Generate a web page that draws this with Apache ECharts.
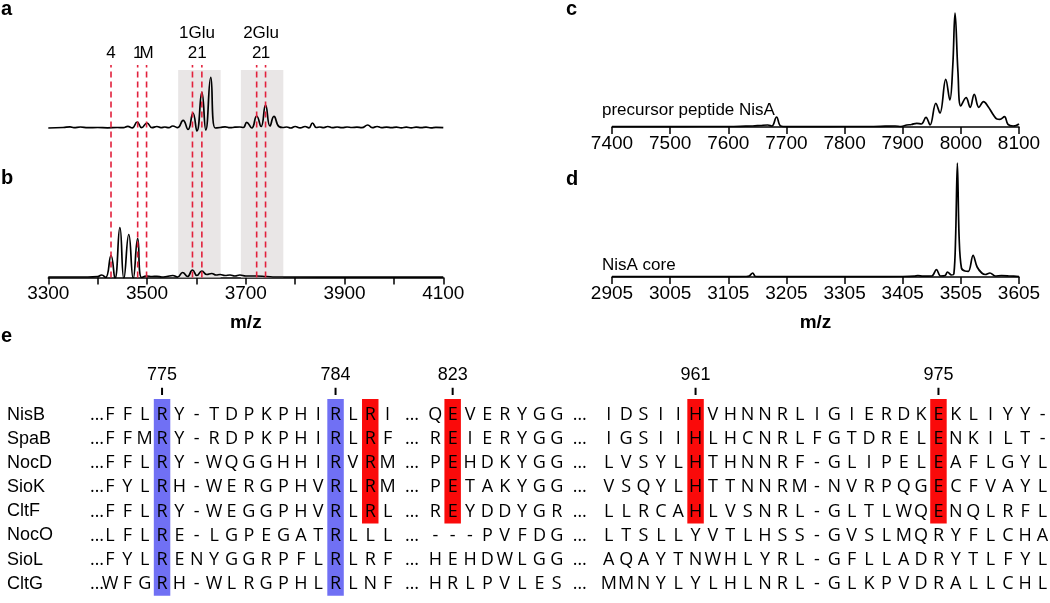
<!DOCTYPE html>
<html><head><meta charset="utf-8">
<script src="https://cdn.jsdelivr.net/npm/echarts@6/dist/echarts.min.js"></script>
<style>html,body{margin:0;padding:0;background:#fff}#c{width:1050px;height:603px}</style>
</head><body><div id="c"></div>
<script>
// ================= DATA =================
// Panel a: spectrum (m/z, relative intensity)
const specA = [[3300,0],[3330,0.5],[3344,1.2],[3352,0.4],[3365,1],[3380,0.3],[3400,0.5],[3420,0.2],[3440,0.5],[3452,0.3],[3461,1.6],[3470,0.2],[3480,6],[3489,0.4],[3500,5],[3510,0.3],[3520,1.5],[3528,0.3],[3536,1],[3544,0.3],[3552,2],[3562,0.4],[3573,7.6],[3583,-1.5],[3593,15],[3601,-3],[3611,35.6],[3619,-2],[3629,50.6],[3638,0],[3648,0.5],[3658,1.2],[3668,0.3],[3678,0.8],[3688,1],[3695,0.5],[3702,5.6],[3712,0],[3722,12],[3731,1.5],[3740,23],[3749,2],[3757,11.6],[3767,1.5],[3775,0.5],[3783,1],[3791,0],[3800,1.5],[3810,0.2],[3820,1.5],[3828,0.2],[3835,5],[3843,0.5],[3850,1],[3858,0.3],[3866,1.5],[3875,0.3],[3885,1],[3895,0.3],[3905,1],[3915,0.5],[3925,0.8],[3935,0.3],[3947,3],[3956,0.3],[3966,1.5],[3975,0.3],[3985,0.8],[3995,0.3],[4005,0.8],[4015,0.2],[4025,0.8],[4035,0.2],[4045,0.8],[4055,0.3],[4065,0.8],[4075,0.2],[4085,0.6],[4100,0.3]];
// Panel b
const specB = [[3300,0.5],[3340,0.5],[3380,0.5],[3400,1],[3408,2.5],[3416,0],[3427,22],[3435,-1],[3445,50],[3453,-1],[3463,43],[3472,-1],[3481,39],[3489,0],[3499,1.5],[3510,1],[3520,1.2],[3530,0.5],[3540,1],[3552,2],[3562,0.5],[3572,5],[3582,1],[3592,7.5],[3601,2],[3611,6.5],[3621,3],[3631,4],[3640,2.5],[3648,3],[3658,2],[3668,2.5],[3678,1.5],[3688,2.5],[3700,1.5],[3720,1.5],[3742,1],[3760,0.5],[3800,0.5],[3900,0.3],[4000,0.3],[4100,0.3]];
// Panel c: precursor peptide NisA
const specC = [[7400,0.3],[7450,0.3],[7500,0.3],[7550,0.5],[7600,0.5],[7630,0.8],[7642,1],[7655,1.5],[7668,2],[7675,1],[7683,10],[7690,1],[7700,0.3],[7750,0.3],[7800,0.5],[7850,0.5],[7870,0.8],[7887,1],[7897,0.5],[7907,2],[7915,2.5],[7924,3.7],[7932,3],[7940,9.7],[7947,2],[7957,23.7],[7964,14],[7974,47.7],[7981,27],[7986,60],[7990,114],[7995,55],[8000,21],[8009,29.3],[8016,19.7],[8023,32.7],[8031,19.7],[8039,25.3],[8047,20.3],[8056,12],[8062,8],[8067,7.7],[8075,10.3],[8081,2.7],[8090,1],[8095,1.5],[8100,3]];
// Panel d: NisA core
const specD = [[2905,0.3],[2950,0.3],[3000,0.3],[3050,0.3],[3100,0.3],[3135,0.5],[3141,1],[3147,4],[3152,0.5],[3170,0.3],[3250,0.3],[3300,0.3],[3350,0.4],[3400,0.5],[3425,0.8],[3431,1.5],[3440,0.8],[3455,1],[3463,7.4],[3470,1],[3478,1.5],[3482,5],[3489,2],[3493,3],[3496,40],[3499,114],[3502,40],[3506,9],[3512,6],[3518,5.7],[3526,21.7],[3533,10],[3541,4],[3547,2.5],[3555,4],[3564,1],[3575,1.5],[3590,1],[3605,0.5]];

// Marker lines (a/b) and labels
const markerMz = [3427,3481,3499,3592,3611,3722,3740];
const markerLabels = ['4','1','M','2','1','2','1'];
const groupMz = [3601,3731];
const groupLabels = ['1Glu','2Glu'];
const boxRanges = [[3563,3649],[3690,3776]];

// Tick values
const ticksAB = [3300,3400,3500,3600,3700,3800,3900,4000,4100];
const labelsAB = [3300,3500,3700,3900,4100];
const ticksC = [7400,7500,7600,7700,7800,7900,8000,8100];
const ticksD = [2905,3005,3105,3205,3305,3405,3505,3605];

// Alignment (panel e)
const names = ['NisB','SpaB','NocD','SioK','CltF','NocO','SioL','CltG'];
const block1 = ['FFLRY-TDPKPHIRLRI','FFMRY-RDPKPHIRLRF','FFLRY-WQGGHHIRVRM','FYLRH-WERGPHVRLRM','FFLRY-WEGGPHVRLRL','LFLRE-LGPEGATRLLL','FYLRENYGGRPFLRLRF','WFGRH-WLRGPHLRLNF'];
const block2 = ['QEVERYGG','REIERYGG','PEHDKYGG','PETAKYGG','REYDDYGR','---PVFDG','HEHDWLGG','HRLPVLES'];
const block3 = ['IDSIIHVHNNRLIGIERDKEKLIYY-','IGSIIHLHCNRLFGTDRELENKILT-','LVSYLHTHNNRF-GLIPELEAFLGYL','VSQYLHTTNNRM-NVRPQGECFVAYL','LLRCAHLVSNRL-GLTLWQENQLRFL','LTSLLYVTLHSS-GVSLMQRYFLCHA','AQAYTNWHLYRL-GFLLADRYTLFYL','MMNYLYLHLNRL-GLKPVDRALLCHL'];
const blocks = [block1, block2, block3];
const posNumbers = [775,784,823,961,975];
const posBlock = [0,0,1,2,2];
const posCol = [3,13,1,5,19];
// highlighted residues: block, column, number of rows from top, kind
const hlBlock = [0,0,0,1,2,2];
const hlCol = [3,13,15,1,5,19];
const hlRows = [8,8,5,5,5,5];
const hlKind = ['conserved','conserved','catalytic','catalytic','catalytic','catalytic'];

// ================= LAYOUT / STYLE =================
const COL_X0 = 110, COL_W = 17.35, ROW_Y0 = 415, ROW_H = 24.1;
const blockStart = [0, 18.75, 28.75];
const ellipsisU = [-0.75, 17.4, 27.07];
const NAME_U = (7 - COL_X0) / COL_W;
const kindColor = {conserved:'#7070f4', catalytic:'#fa0a0a'};
const SANS = '"Liberation Sans", Arial, Helvetica, sans-serif';
const SEQF = '"Open Sans", "DejaVu Sans", sans-serif';

// build alignment items
const items = [];
names.forEach((n, r) => items.push({u: NAME_U, r, text: n, kind: 'name'}));
for (let r = 0; r < names.length; r++) {
  blocks.forEach((b, bi) => {
    items.push({u: ellipsisU[bi], r, text: '\u2026', kind: 'ell'});
    b[r].split('').forEach((ch, ci) => items.push({u: blockStart[bi] + ci, r, text: ch, kind: 'res'}));
  });
}
posNumbers.forEach((num, i) => items.push({u: blockStart[posBlock[i]] + posCol[i], r: -1.66, text: String(num), kind: 'num'}));
const tickItems = posNumbers.map((num, i) => ({u: blockStart[posBlock[i]] + posCol[i]}));
const boxItems = hlBlock.map((b, i) => ({u: blockStart[b] + hlCol[i], rows: hlRows[i], color: kindColor[hlKind[i]]}));

const chart = echarts.init(document.getElementById('c'), null, {renderer: 'canvas'});

const hiddenAxis = (extra) => Object.assign({type:'value', show:false, axisLine:{show:false}, axisTick:{show:false}, axisLabel:{show:false}, splitLine:{show:false}}, extra);
const visAxisX = (gi, min, max, ticks, labels) => ({
  type:'value', gridIndex: gi, min, max,
  axisLine:{show:true, onZero:false, lineStyle:{color:'#000', width:1.5}},
  axisTick:{show:true, inside:false, length:7, lineStyle:{color:'#000', width:1.5}, customValues: ticks},
  axisLabel:{show:true, color:'#000', fontSize:19, fontFamily:SANS, margin:7, customValues: labels, formatter: v => String(v)},
  splitLine:{show:false}
});

const specLine = (xi, data, sm) => ({
  type:'line', xAxisIndex: xi, yAxisIndex: xi, data, showSymbol:false, smooth:sm,
  lineStyle:{color:'#000', width:1.7}, z:3, silent:true, animation:false, clip:true
});

const mzName = {name:'m/z', nameLocation:'middle', nameGap:36, nameTextStyle:{fontSize:19, fontWeight:'bold', fontFamily:SANS, color:'#000'}};

const option = {
  animation:false,
  backgroundColor:'#fff',
  grid:[
    {left:48.3, width:395, top:20, height:257.5},     // 0 overlay a/b
    {left:48.3, width:395, top:68, height:65},        // 1 a
    {left:48.3, width:395, top:217.5, height:60},     // 2 b
    {left:612, width:407, top:7, height:120},         // 3 c
    {left:612, width:407, top:157, height:120},       // 4 d
    {left:0, width:1050, top:360, height:240}         // 5 e
  ],
  xAxis:[
    hiddenAxis({gridIndex:0, min:3300, max:4100}),
    hiddenAxis({gridIndex:1, min:3300, max:4100}),
    Object.assign(visAxisX(2, 3300, 4100, ticksAB, labelsAB), mzName),
    visAxisX(3, 7400, 8100, ticksC, ticksC),
    Object.assign(visAxisX(4, 2905, 3605, ticksD, ticksD), mzName),
    hiddenAxis({gridIndex:5, min: -COL_X0 / COL_W, max: (1050 - COL_X0) / COL_W})
  ],
  yAxis:[
    hiddenAxis({gridIndex:0, min:0, max:257.5}),
    hiddenAxis({gridIndex:1, min:-5, max:60}),
    hiddenAxis({gridIndex:2, min:0, max:60}),
    hiddenAxis({gridIndex:3, min:0, max:120}),
    hiddenAxis({gridIndex:4, min:0, max:120}),
    hiddenAxis({gridIndex:5, min:(360 - ROW_Y0) / ROW_H, max:(600 - ROW_Y0) / ROW_H, inverse:true})
  ],
  graphic:[
    {type:'text', x:1, y:9, style:{text:'a', font:'bold 20px ' + SANS, fill:'#000', verticalAlign:'middle'}},
    {type:'text', x:1, y:178, style:{text:'b', font:'bold 20px ' + SANS, fill:'#000', verticalAlign:'middle'}},
    {type:'text', x:566, y:9, style:{text:'c', font:'bold 20px ' + SANS, fill:'#000', verticalAlign:'middle'}},
    {type:'text', x:566, y:179, style:{text:'d', font:'bold 20px ' + SANS, fill:'#000', verticalAlign:'middle'}},
    {type:'text', x:1, y:336, style:{text:'e', font:'bold 20px ' + SANS, fill:'#000', verticalAlign:'middle'}},
    {type:'text', x:602, y:110, style:{text:'precursor peptide NisA', font:'17px ' + SANS, fill:'#000', verticalAlign:'middle'}},
    {type:'text', x:602, y:265, style:{text:'NisA core', font:'17px ' + SANS, fill:'#000', verticalAlign:'middle'}}
  ],
  series:[
    // gray boxes
    {type:'custom', xAxisIndex:0, yAxisIndex:0, z:1, silent:true,
     data: boxRanges.map(b => [b[0], b[1]]),
     renderItem:(p, api) => {
       const a = api.coord([api.value(0), 0]);
       const b = api.coord([api.value(1), 207.5]);
       return {type:'rect', shape:{x:a[0], y:b[1], width:b[0]-a[0], height:a[1]-b[1]}, style:{fill:'#e9e6e6'}};
     }},
    specLine(1, specA, 0.5),
    specLine(2, specB, 0.5),
    specLine(3, specC, 0.4),
    specLine(4, specD, 0.35),
    // red dashed markers
    {type:'custom', xAxisIndex:0, yAxisIndex:0, z:5, silent:true,
     data: markerMz.map(m => [m, 0]),
     renderItem:(p, api) => {
       const a = api.coord([api.value(0), 0]);
       const b = api.coord([api.value(0), 212.5]);
       return {type:'line', shape:{x1:a[0], y1:a[1], x2:b[0], y2:b[1]}, style:{stroke:'#e2213c', lineWidth:1.6, lineDash:[6,4]}};
     }},
    // marker labels
    {type:'custom', xAxisIndex:0, yAxisIndex:0, z:5, silent:true,
     data: markerMz.map(m => [m, 224.5]),
     renderItem:(p, api) => {
       const a = api.coord([api.value(0), api.value(1)]);
       return {type:'text', x:a[0], y:a[1], style:{text: markerLabels[p.dataIndex], font:'17px ' + SANS, fill:'#000', align:'center', verticalAlign:'middle'}};
     }},
    {type:'custom', xAxisIndex:0, yAxisIndex:0, z:5, silent:true,
     data: groupMz.map(m => [m, 244.5]),
     renderItem:(p, api) => {
       const a = api.coord([api.value(0), api.value(1)]);
       return {type:'text', x:a[0], y:a[1], style:{text: groupLabels[p.dataIndex], font:'17px ' + SANS, fill:'#000', align:'center', verticalAlign:'middle'}};
     }},
    // alignment highlight boxes
    {type:'custom', xAxisIndex:5, yAxisIndex:5, z:1, silent:true,
     data: boxItems.map(b => [b.u, b.rows]),
     renderItem:(p, api) => {
       const bi = boxItems[p.dataIndex];
       const a = api.coord([bi.u - 0.475, -0.66]);
       const b = api.coord([bi.u + 0.475, bi.rows - 0.5]);
       return {type:'rect', shape:{x:a[0], y:a[1], width:b[0]-a[0], height:b[1]-a[1]}, style:{fill: bi.color}};
     }},
    // position ticks
    {type:'custom', xAxisIndex:5, yAxisIndex:5, z:2, silent:true,
     data: tickItems.map(t => [t.u, -1]),
     renderItem:(p, api) => {
       const a = api.coord([api.value(0), -1.13]);
       const b = api.coord([api.value(0), -0.83]);
       return {type:'line', shape:{x1:a[0], y1:a[1], x2:b[0], y2:b[1]}, style:{stroke:'#000', lineWidth:2}};
     }},
    // alignment text
    {type:'custom', xAxisIndex:5, yAxisIndex:5, z:3, silent:true,
     data: items.map(it => [it.u, it.r]),
     renderItem:(p, api) => {
       const it = items[p.dataIndex];
       const a = api.coord([it.u, it.r]);
       let font = '18px ' + SEQF, align = 'center';
       if (it.kind === 'name') { font = '18px ' + SANS; align = 'left'; }
       if (it.kind === 'num') { font = '18px ' + SANS; }
       return {type:'text', x:a[0], y:a[1], style:{text: it.text, font, fill:'#000', align, verticalAlign:'middle'}};
     }}
  ]
};
chart.setOption(option);
</script>
</body></html>
